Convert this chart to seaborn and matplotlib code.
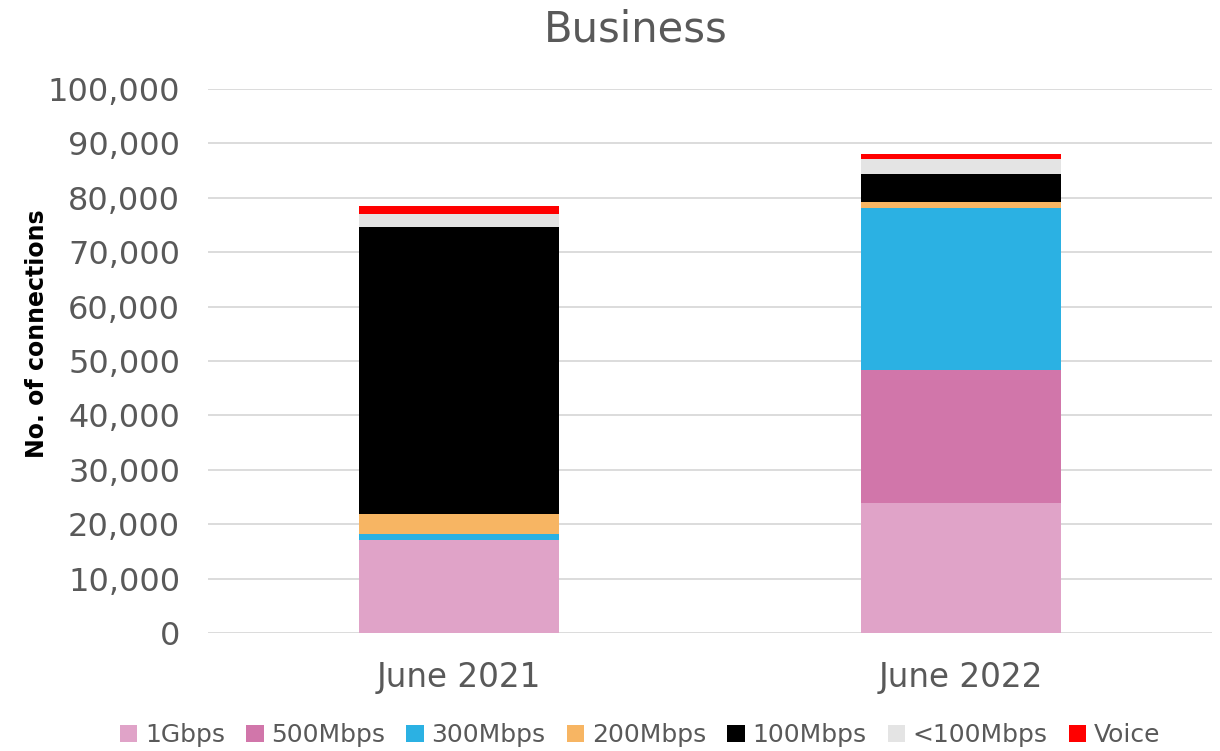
import matplotlib
matplotlib.use("Agg")
import matplotlib.pyplot as plt
from matplotlib.patches import Patch
from matplotlib.ticker import FuncFormatter
import seaborn as sns
import pandas as pd
import numpy as np

# Business connections by speed tier
periods = ["June 2021", "June 2022"]
tiers = ["1Gbps", "500Mbps", "300Mbps", "200Mbps", "100Mbps", "<100Mbps", "Voice"]
gbps_1 = [17100, 23900]
mbps_500 = [0, 24400]
mbps_300 = [1150, 29800]
mbps_200 = [3650, 1100]
mbps_100 = [52700, 5100]
mbps_lt100 = [2400, 2900]
voice = [1500, 900]

tier_values = [gbps_1, mbps_500, mbps_300, mbps_200, mbps_100, mbps_lt100, voice]
tier_colors = ["#e0a3c8", "#d176aa", "#2bb1e3", "#f7b563", "#000000", "#e4e4e4", "#ff0000"]

sns.set_theme(style="white")
plt.rcParams["font.family"] = ["DejaVu Sans"]
text_color = "#595959"

fig = plt.figure(figsize=(12.2, 7.51), dpi=100)
ax = fig.add_axes([0.1705, 0.1571, 0.8229, 0.7244])

bottom = np.zeros(len(periods))
for name, vals, col in zip(tiers, tier_values, tier_colors):
    df = pd.DataFrame({"period": periods, "value": vals})
    sns.barplot(data=df, x="period", y="value", color=col, width=0.4,
                bottom=bottom, ax=ax, linewidth=0, saturation=1, zorder=3)
    bottom = bottom + np.array(vals)

ax.set_xlim(-0.5, 1.5)
ax.set_ylim(0, 100000)
ax.set_yticks(np.arange(0, 100001, 10000))
ax.yaxis.set_major_formatter(FuncFormatter(lambda v, p: f"{int(v):,}"))
ax.grid(axis="y", color="#d9d9d9", linewidth=1.3, zorder=0)
ax.grid(axis="x", visible=False)
for s in ax.spines.values():
    s.set_visible(False)
ax.tick_params(axis="y", length=0, labelsize=23, colors=text_color, pad=20)
ax.tick_params(axis="x", length=0, labelsize=23.5, colors=text_color, pad=20)
ax.set_xlabel("")
ax.set_ylabel("")
fig.text(37 / 1220, 1 - 334 / 751, "No. of connections", rotation=90,
         fontsize=17, fontweight="bold", color="black", ha="center", va="center")
fig.text(636 / 1220, 1 - 30 / 751, "Business", fontsize=30, color=text_color,
         ha="center", va="center")

handles = [Patch(facecolor=c, edgecolor="none", label=t) for t, c in zip(tiers, tier_colors)]
fig.legend(handles=handles, loc="center", ncol=7, frameon=False,
           bbox_to_anchor=(640 / 1220, 1 - 735 / 751), fontsize=18, labelcolor=text_color,
           handlelength=0.7, handleheight=0.7, handletextpad=0.3, columnspacing=0.85)

fig.savefig("out.png", dpi=100)
